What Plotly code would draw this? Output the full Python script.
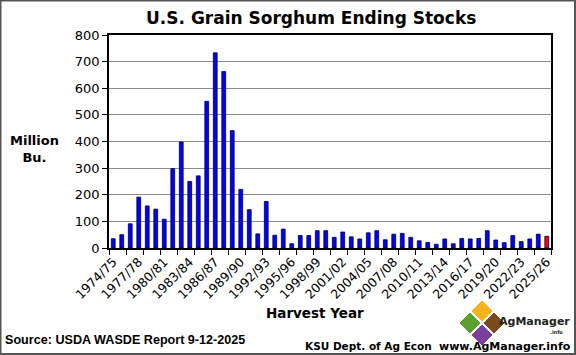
import plotly.graph_objects as go

years = list(range(1974, 2026))
labels = [f"{y}/{str(y + 1)[-2:]}" for y in years]
stocks = [35, 50, 91, 191, 158, 146, 108, 298, 398, 250, 271, 551, 733, 663, 441,
          220, 144, 53, 175, 48, 71, 16, 47, 47, 65, 65, 40, 60, 42, 34, 57, 65,
          31, 52, 55, 40, 27, 21, 14, 34, 16, 36, 34, 36, 65, 30, 20, 47, 24, 34,
          52, 44]
bar_colors = ["#0000FF"] * (len(stocks) - 1) + ["#FF0000"]
tick_idx = list(range(0, len(labels), 3))
tick_text = [labels[i] for i in tick_idx]

W, H = 576, 355
L, R, T, B = 109, 551, 35, 248


def px(x):
    return (x - L) / (R - L)


def py(y):
    return (B - y) / (B - T)


fig = go.Figure()
fig.add_trace(go.Bar(
    x=list(range(len(stocks))), y=stocks, width=0.45,
    marker=dict(color=bar_colors, line=dict(color="#000033", width=0.8)),
    hoverinfo="skip"))

FONT = "DejaVu Sans"
fig.update_layout(
    width=W, height=H,
    margin=dict(l=L, r=W - R, t=T, b=H - B, autoexpand=False),
    plot_bgcolor="white", paper_bgcolor="white",
    showlegend=False,
    font=dict(family=FONT, size=13, color="black"),
    xaxis=dict(range=[-0.5, len(stocks) - 0.5], tickmode="array",
               tickvals=tick_idx, ticktext=tick_text, tickangle=-45,
               ticks="", tickfont=dict(size=12.5, family=FONT),
               showline=True, linecolor="black", linewidth=1.5, mirror=True,
               showgrid=False, zeroline=False, automargin=False,
               minor=dict(ticks="outside", tickmode="linear", tick0=-0.5,
                          dtick=2, ticklen=5, tickcolor="black", tickwidth=1,
                          showgrid=False)),
    yaxis=dict(range=[0, 800], dtick=100, ticks="outside", ticklen=5,
               tickcolor="black", showline=True, linecolor="black",
               linewidth=1.5, mirror=True, showgrid=True, gridcolor="#8c8c8c",
               gridwidth=1, zeroline=False, automargin=False,
               tickfont=dict(size=13, family=FONT)),
)

annots = [
    dict(text="<b>U.S. Grain Sorghum Ending Stocks</b>", x=px(311), y=py(18),
         font=dict(size=17, family=FONT)),
    dict(text="<b>Million<br>Bu.</b>", x=px(34), y=py(149),
         font=dict(size=13, family=FONT), align="center"),
    dict(text="<b>Harvest Year</b>", x=px(315), y=py(313),
         font=dict(size=13.5, family=FONT)),
    dict(text="<b>Source: USDA WASDE Report 9-12-2025</b>", x=px(3), y=py(340),
         xanchor="left", font=dict(size=12.6, family="Liberation Sans")),
    dict(text="<b>KSU Dept. of Ag Econ</b>", x=px(303), y=py(346),
         xanchor="left", font=dict(size=10.5, family=FONT)),
    dict(text="<b>www.AgManager.info</b>", x=px(573), y=py(346),
         xanchor="right", font=dict(size=11, family=FONT)),
    dict(text="<b>AgManager</b>", x=px(497), y=py(321), xanchor="left",
         font=dict(size=11, family=FONT, color="#222222")),
    dict(text="<b>.info</b>", x=px(565), y=py(332), xanchor="right",
         font=dict(size=5, family=FONT, color="#222222")),
]
for a in annots:
    a.setdefault("xanchor", "center")
    fig.add_annotation(xref="paper", yref="paper", showarrow=False,
                       yanchor="middle", **a)

# logo diamonds
def diamond(cx, cy, r, color):
    pts = [(cx, cy - r), (cx + r, cy), (cx, cy + r), (cx - r, cy)]
    path = "M " + " L ".join(f"{px(x)},{py(y)}" for x, y in pts) + " Z"
    fig.add_shape(type="path", path=path, xref="paper", yref="paper",
                  fillcolor=color, line=dict(color="white", width=1))

diamond(482, 311, 11, "#F5B21B")
diamond(470, 323, 11, "#5AA02C")
diamond(494, 323, 11, "#7A4A1E")
diamond(482, 335, 11, "#7B3F9E")

# outer frame
fig.add_shape(type="rect", xref="paper", yref="paper",
              x0=px(0.5), x1=px(575), y0=py(0.5), y1=py(354),
              line=dict(color="#555555", width=2))

fig.write_html("out.html", config={"displayModeBar": False},
               post_script="document.body.style.margin='0';")
